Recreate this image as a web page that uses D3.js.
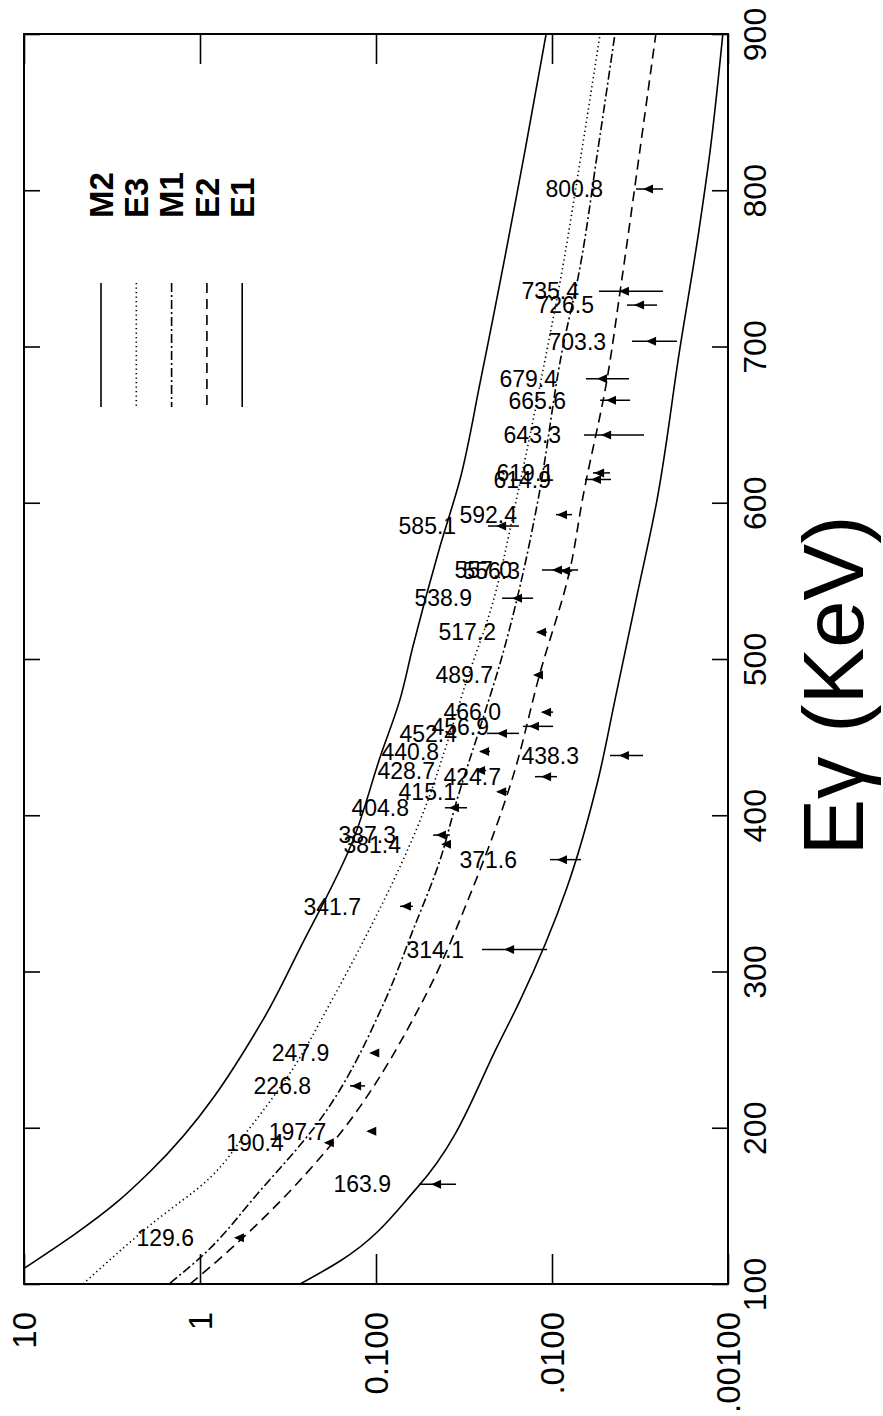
<!DOCTYPE html>
<html>
<head>
<meta charset="utf-8">
<script src="https://cdn.jsdelivr.net/npm/d3@7"></script>
<style>
  html, body { margin: 0; padding: 0; background: #fff; }
  svg { display: block; font-family: "Liberation Sans", Arial, Helvetica, sans-serif; }
</style>
</head>
<body>
<svg id="chart" width="883" height="1416"></svg>
<script>
// Measured transitions: gamma energy (keV), conversion coefficient and its range
const pointEnergy = [800.8, 735.4, 726.5, 703.3, 679.4, 665.6, 643.3, 619.1, 614.9, 592.4,
  585.1, 557.0, 556.3, 538.9, 517.2, 489.7, 466.0, 456.9, 452.4, 440.8,
  438.3, 428.7, 424.7, 415.1, 404.8, 387.3, 381.4, 371.6, 341.7, 314.1,
  247.9, 226.8, 197.7, 190.4, 163.9, 129.6];
const pointAlpha = [0.00281, 0.00385, 0.00316, 0.00270, 0.00513, 0.00456, 0.00486, 0.00533, 0.00555, 0.00866,
  0.0192, 0.00925, 0.00832, 0.0156, 0.0114, 0.01186, 0.01067, 0.0125, 0.0190, 0.0240,
  0.00385, 0.0253, 0.01067, 0.0192, 0.0356, 0.0422, 0.0395, 0.00866, 0.0667, 0.0173,
  0.101, 0.128, 0.105, 0.183, 0.0450, 0.593];
const pointAlphaLow = [0.00234, 0.00234, 0.00253, 0.00195, 0.00365, 0.00360, 0.00300, 0.00468, 0.00462, 0.00769,
  0.0154, 0.00711, 0.00769, 0.0128, 0.01067, 0.01125, 0.00986, 0.00986, 0.0154, 0.0225,
  0.00304, 0.0237, 0.00937, 0.0180, 0.0304, 0.0380, 0.0375, 0.00684, 0.0617, 0.01067,
  0.0962, 0.1155, 0.100, 0.173, 0.0351, 0.562];
const pointAlphaHigh = [0.00333, 0.00541, 0.00375, 0.00351, 0.00641, 0.00533, 0.00658, 0.00585, 0.00649, 0.00949,
  0.0231, 0.0114, 0.00902, 0.0192, 0.01216, 0.0125, 0.0114, 0.0146, 0.0234, 0.0256,
  0.00468, 0.0270, 0.0125, 0.0205, 0.0406, 0.0474, 0.0416, 0.01026, 0.0731, 0.0250,
  0.107, 0.1405, 0.111, 0.192, 0.0570, 0.625];

// Theoretical conversion coefficients for each multipolarity
const m2Energy = [110, 153, 172, 269, 315, 384, 437, 474, 508, 572, 615, 677, 826, 900];
const m2Alpha  = [10.0, 2.92, 1.92, 0.439, 0.270, 0.135, 0.0949, 0.0731, 0.0617, 0.0433, 0.0333, 0.0256, 0.0142, 0.0108];
const e3Energy = [100, 138.5, 168, 200, 235, 283, 324, 367, 408, 446, 487, 530, 604, 698, 741, 826, 900];
const e3Alpha  = [4.62, 1.88, 0.877, 0.520, 0.308, 0.1755, 0.1125, 0.0731, 0.0513, 0.0395, 0.0304, 0.0225, 0.0158, 0.01067, 0.00901, 0.00676, 0.00533];
const m1Energy = [100.6, 116.7, 159.6, 202.6, 281.4, 326.3, 371.2, 409.6, 456.4, 497.4, 555.1, 601.9, 700, 744.2, 826.3, 900];
const m1Alpha  = [1.48, 1.0, 0.456, 0.216, 0.0889, 0.0617, 0.0433, 0.0347, 0.0256, 0.0197, 0.0146, 0.0120, 0.00866, 0.00711, 0.00548, 0.00439];
const e2Energy = [100, 114.7, 188.5, 281.4, 353.8, 424.4, 491, 557.1, 603.8, 678.8, 734.6, 826.3, 900];
const e2Alpha  = [1.14, 0.80, 0.182, 0.0541, 0.0281, 0.0167, 0.0117, 0.00791, 0.00667, 0.00487, 0.00411, 0.00316, 0.00257];
const e1Energy = [100, 114.7, 161.5, 255.8, 281.4, 353.8, 422.4, 473.7, 537.8, 601.9, 698.1, 770.5, 826.3, 900];
const e1Alpha  = [0.270, 0.160, 0.0585, 0.0197, 0.0152, 0.00822, 0.00548, 0.00439, 0.00333, 0.00253, 0.00188, 0.00148, 0.00126, 0.00107];

const curveNames = ["M2", "E3", "M1", "E2", "E1"];
const energyTicks = [100, 200, 300, 400, 500, 600, 700, 800, 900];
const alphaTicks = [10, 1, 0.1, 0.01, 0.001];
const alphaTickLabels = ["10", "1", "0.100", ".0100", ".00100"];
const axisTitle = "Eγ (KeV)";

const curves = [
  { name: "M2", energy: m2Energy, alpha: m2Alpha, dash: null },
  { name: "E3", energy: e3Energy, alpha: e3Alpha, dash: "1.3,3.2" },
  { name: "M1", energy: m1Energy, alpha: m1Alpha, dash: "9,3,2,3" },
  { name: "E2", energy: e2Energy, alpha: e2Alpha, dash: "10,6" },
  { name: "E1", energy: e1Energy, alpha: e1Alpha, dash: null }
];

// The plot is drawn turned on its side: energy runs up the page,
// the coefficient decreases from left to right.
const plotL = 24, plotR = 728, plotT = 34, plotB = 1284;
const svg = d3.select("#chart");

const eScale = d3.scaleLinear().domain([100, 900]).range([plotB, plotT]);
const aScale = d3.scaleLog().domain([10, 0.001]).range([plotL, plotR]);

svg.append("defs").append("clipPath").attr("id", "plotClip")
  .append("rect").attr("x", plotL).attr("y", plotT)
  .attr("width", plotR - plotL).attr("height", plotB - plotT);

// Axes with ticks turned inwards on all four sides
const styleAxis = g => {
  g.select(".domain").remove();
  g.selectAll(".tick line").attr("stroke", "#000").attr("stroke-width", 1.6);
};

svg.append("g").attr("transform", `translate(0,${plotB})`)
  .call(d3.axisBottom(aScale).tickValues(alphaTicks).tickSize(-30).tickSizeOuter(0)
    .tickFormat((d, i) => alphaTickLabels[i]))
  .call(styleAxis)
  .call(g => g.selectAll(".tick text")
    .attr("x", 0).attr("y", 0).attr("dy", "0.36em")
    .attr("transform", "translate(0,28) rotate(-90)")
    .attr("text-anchor", "end")
    .attr("fill", "#000")
    .style("font-size", "33px")
    .style("font-family", "Liberation Sans, Arial, sans-serif"));

svg.append("g").attr("transform", `translate(0,${plotT})`)
  .call(d3.axisTop(aScale).tickValues(alphaTicks).tickSize(-30).tickSizeOuter(0).tickFormat(""))
  .call(styleAxis);

svg.append("g").attr("transform", `translate(${plotR},0)`)
  .call(d3.axisRight(eScale).tickValues(energyTicks).tickSize(-16).tickSizeOuter(0).tickFormat(d3.format("d")))
  .call(styleAxis)
  .call(g => g.selectAll(".tick text")
    .attr("x", 0).attr("y", 0).attr("dy", 0)
    .attr("transform", "translate(38,0) rotate(-90)")
    .attr("text-anchor", "middle")
    .attr("fill", "#000")
    .style("font-size", "32px")
    .style("font-family", "Liberation Sans, Arial, sans-serif"));

svg.append("g").attr("transform", `translate(${plotL},0)`)
  .call(d3.axisLeft(eScale).tickValues(energyTicks).tickSize(-16).tickSizeOuter(0).tickFormat(""))
  .call(styleAxis);

// Frame
svg.append("rect").attr("x", plotL).attr("y", plotT)
  .attr("width", plotR - plotL).attr("height", plotB - plotT)
  .attr("fill", "none").attr("stroke", "#000").attr("stroke-width", 2);

// Axis title, centred a little below the 500 keV tick
svg.append("text")
  .attr("transform", `translate(863,${eScale(483)}) rotate(-90)`)
  .attr("text-anchor", "middle")
  .style("font-size", "85px")
  .attr("fill", "#000")
  .text(axisTitle);

// Theoretical curves
const line = d3.line()
  .x(d => aScale(d[1]))
  .y(d => eScale(d[0]))
  .curve(d3.curveMonotoneY);

const curveLayer = svg.append("g").attr("clip-path", "url(#plotClip)");
curves.forEach(c => {
  curveLayer.append("path")
    .datum(c.energy.map((e, i) => [e, c.alpha[i]]))
    .attr("d", line)
    .attr("fill", "none")
    .attr("stroke", "#000")
    .attr("stroke-width", 1.6)
    .attr("stroke-dasharray", c.dash);
});

// Legend
const legend = svg.append("g");
curveNames.forEach((name, i) => {
  const c = curves.find(k => k.name === name);
  const cx = 101 + i * 35.3;
  legend.append("line")
    .attr("x1", cx).attr("x2", cx).attr("y1", 283).attr("y2", 407)
    .attr("stroke", "#000").attr("stroke-width", 1.6)
    .attr("stroke-dasharray", c.dash);
  legend.append("text")
    .attr("transform", `translate(${cx},218) rotate(-90)`)
    .attr("dy", "0.36em")
    .attr("text-anchor", "start")
    .style("font-size", "33px")
    .style("font-weight", "bold")
    .attr("fill", "#000")
    .text(name);
});

// Measured points with error bars and energy labels
const points = pointEnergy.map((e, i) => ({
  e, a: pointAlpha[i], lo: pointAlphaLow[i], hi: pointAlphaHigh[i]
}));
const pts = svg.append("g");
pts.selectAll("line.err").data(points).join("line")
  .attr("class", "err")
  .attr("x1", d => aScale(d.hi)).attr("x2", d => aScale(d.lo))
  .attr("y1", d => eScale(d.e)).attr("y2", d => eScale(d.e))
  .attr("stroke", "#000").attr("stroke-width", 1.5);
pts.selectAll("path.mark").data(points).join("path")
  .attr("class", "mark")
  .attr("transform", d => `translate(${aScale(d.a)},${eScale(d.e)})`)
  .attr("d", "M-6,0L4,-4.5L4,4.5Z")
  .attr("fill", "#000");
pts.selectAll("text.lab").data(points).join("text")
  .attr("class", "lab")
  .attr("x", d => aScale(d.a) - 46)
  .attr("y", d => eScale(d.e))
  .attr("dy", "0.36em")
  .attr("text-anchor", "end")
  .style("font-size", "23px")
  .attr("fill", "#000")
  .text(d => d3.format(".1f")(d.e));
</script>
</body>
</html>
